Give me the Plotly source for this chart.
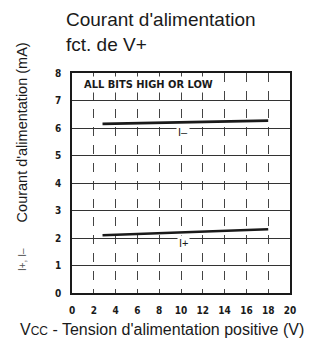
import plotly.graph_objects as go

# Supply current vs positive supply voltage
vcc = [2.8, 18]
i_minus = [6.15, 6.27]
i_plus = [2.1, 2.32]

x_ticks = [0, 2, 4, 6, 8, 10, 12, 14, 16, 18, 20]
y_ticks = [0, 1, 2, 3, 4, 5, 6, 7, 8]

ink = "#1a1a1a"
tick_font = dict(family="DejaVu Sans Condensed, Liberation Sans Narrow, sans-serif",
                 size=10, color=ink, weight="bold")
text_font = "Liberation Sans, Arial, sans-serif"

fig = go.Figure()
for ys in (i_minus, i_plus):
    fig.add_trace(go.Scatter(x=vcc, y=ys, mode="lines",
                             line=dict(color=ink, width=2.6),
                             showlegend=False, hoverinfo="skip"))

fig.update_layout(
    width=329, height=347,
    margin=dict(l=72, r=39, t=73, b=54),
    paper_bgcolor="white", plot_bgcolor="white",
    xaxis=dict(range=[0, 20], tickvals=x_ticks, ticktext=[str(v) for v in x_ticks],
               showgrid=True, gridcolor="#444", gridwidth=1, griddash="dash",
               zeroline=False, showline=True, mirror=True, linecolor=ink, linewidth=1.5,
               ticks="", tickfont=tick_font, ticklabelstandoff=7),
    yaxis=dict(range=[0, 8], tickvals=y_ticks, ticktext=[str(v) for v in y_ticks],
               showgrid=True, gridcolor="#333", gridwidth=1,
               zeroline=False, showline=True, mirror=True, linecolor=ink, linewidth=1.5,
               ticks="", tickfont=tick_font, ticklabelstandoff=7),
)

# Title block
fig.add_annotation(text="Courant d'alimentation<br>fct. de V+", xref="paper", yref="paper",
                   x=-0.035, y=1.0, xanchor="left", yanchor="bottom", yshift=16,
                   showarrow=False, align="left",
                   font=dict(family=text_font, size=19, color=ink))

# Condition note inside the plot
fig.add_annotation(text="ALL BITS HIGH OR LOW", xref="x", yref="y", x=0.9, y=7.6,
                   xanchor="left", yanchor="middle", showarrow=False, bgcolor="white",
                   font=dict(family="DejaVu Sans Condensed, sans-serif", size=11,
                             color=ink, weight="bold"))

# Curve labels
fig.add_annotation(text="I\u2013", xref="x", yref="y", x=10.2, y=5.85, showarrow=False,
                   bgcolor="white", font=dict(family=text_font, size=11, color=ink))
fig.add_annotation(text="I+", xref="x", yref="y", x=10.2, y=1.83, showarrow=False,
                   bgcolor="white", font=dict(family=text_font, size=11, color=ink))

# Axis titles
fig.add_annotation(text="Courant d'alimentation (mA)",
                   xref="paper", yref="paper", x=0, y=0.73, xanchor="center", yanchor="middle",
                   xshift=-50, textangle=-90, showarrow=False,
                   font=dict(family=text_font, size=14.5, color=ink))
fig.add_annotation(text="I+, I\u2013",
                   xref="paper", yref="paper", x=0, y=0.15, xanchor="center", yanchor="middle",
                   xshift=-50, textangle=-90, showarrow=False,
                   font=dict(family=text_font, size=10, color="#555"))
fig.add_annotation(text="V<span style='font-size:12px'>CC</span> - Tension d'alimentation positive (V)",
                   xref="paper", yref="paper", x=0.415, y=0, yanchor="middle", yshift=-36,
                   showarrow=False, font=dict(family=text_font, size=16, color=ink))

fig.write_html("out.html")
